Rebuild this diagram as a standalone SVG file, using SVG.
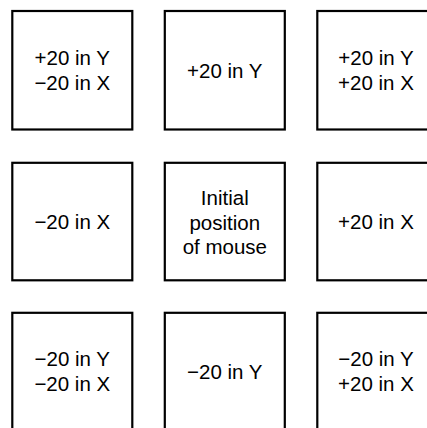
<svg xmlns="http://www.w3.org/2000/svg" width="427" height="428" viewBox="0 0 427 428">
<style>
.box{fill:#fff;stroke:#000;stroke-width:2.2}
.t{font-family:"Liberation Sans",Arial,sans-serif;font-size:20.5px;fill:#000;text-anchor:middle}
</style>
<rect width="427" height="428" fill="#fff"/>
<g id="n-ul"><rect class="box" x="12.3" y="11" width="120" height="118.5"/><text class="t" x="72.3" y="64.5">+20 in Y</text><text class="t" x="72.3" y="89.5">−20 in X</text></g>
<g id="n-u"><rect class="box" x="164.8" y="11" width="120" height="118.5"/><text class="t" x="224.8" y="77.5">+20 in Y</text></g>
<g id="n-ur"><rect class="box" x="317.3" y="11" width="120" height="118.5"/><text class="t" x="376" y="64.5">+20 in Y</text><text class="t" x="376" y="89.5">+20 in X</text></g>
<g id="n-l"><rect class="box" x="12.3" y="162.8" width="120" height="117.5"/><text class="t" x="72.3" y="229">−20 in X</text></g>
<g id="n-c"><rect class="box" x="164.8" y="162.8" width="120" height="117.5"/><text class="t" x="224.8" y="204.5">Initial</text><text class="t" x="224.8" y="229.5">position</text><text class="t" x="224.8" y="254">of mouse</text></g>
<g id="n-r"><rect class="box" x="317.3" y="162.8" width="120" height="117.5"/><text class="t" x="376" y="229">+20 in X</text></g>
<g id="n-dl"><rect class="box" x="12.3" y="312.8" width="120" height="118"/><text class="t" x="72.3" y="366">−20 in Y</text><text class="t" x="72.3" y="391">−20 in X</text></g>
<g id="n-d"><rect class="box" x="164.8" y="312.8" width="120" height="118"/><text class="t" x="224.8" y="378.5">−20 in Y</text></g>
<g id="n-dr"><rect class="box" x="317.3" y="312.8" width="120" height="118"/><text class="t" x="376" y="366">−20 in Y</text><text class="t" x="376" y="391">+20 in X</text></g>
<g id="connectors"/>
</svg>
